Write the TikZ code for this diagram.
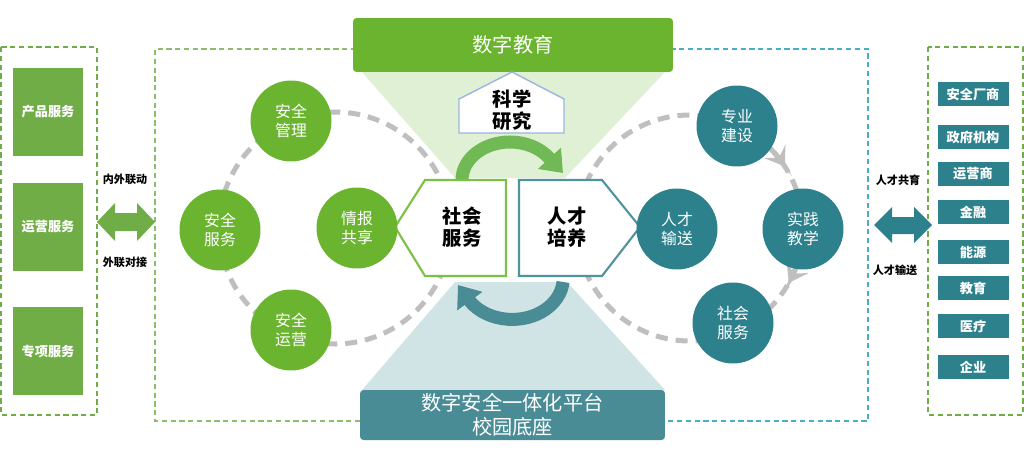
\documentclass[tikz,border=0pt]{standalone}
\usepackage{fontspec}
\setmainfont{Noto Sans CJK SC}
\usetikzlibrary{arrows.meta, positioning}
\definecolor{leafgreen}{RGB}{106,180,47}
\definecolor{sidegreen}{RGB}{112,173,71}
\definecolor{arcgreen}{RGB}{112,185,84}
\definecolor{edgegreen}{RGB}{125,193,66}
\definecolor{paleleaf}{RGB}{223,240,213}
\definecolor{tealdark}{RGB}{45,129,140}
\definecolor{tealmid}{RGB}{74,140,150}
\definecolor{edgeteal}{RGB}{79,147,156}
\definecolor{paleteal}{RGB}{208,227,229}
\definecolor{cyandash}{RGB}{75,172,198}
\definecolor{housebd}{RGB}{157,180,222}
\definecolor{dashgray}{RGB}{191,191,191}
\tikzset{
  ring/.style={
    circle, inner sep=0pt, minimum size=1.62cm, text=white,
    align=center, font=\fontsize{9}{10.5}\selectfont
  },
  grring/.style={ring, fill=leafgreen},
  tlring/.style={ring, fill=tealdark},
  svcbox/.style={rectangle, fill=sidegreen, minimum width=1.4cm,
    minimum height=1.78cm, inner sep=0pt, text=white,
    font=\bfseries\fontsize{7.5}{9}\selectfont},
  orgbox/.style={rectangle, fill=tealdark, minimum width=1.42cm,
    minimum height=0.48cm, inner sep=0pt, text=white,
    font=\bfseries\fontsize{7.5}{9}\selectfont},
  banner/.style={rectangle, rounded corners=2pt, inner sep=0pt,
    text=white, align=center, font=\fontsize{11.5}{13.5}\selectfont},
  tag/.style={font=\bfseries\fontsize{6.3}{8}\selectfont},
  core/.style={align=center, font=\bfseries\fontsize{11}{12.5}\selectfont},
  ringpath/.style={dashgray, line width=0.1cm, dash pattern=on 0.24cm off 0.16cm},
  cycarr/.style={line width=0.26cm, -{Triangle[length=0.4cm, width=0.6cm]}},
  chev/.style={dashgray, line width=0.1cm,
    -{Stealth[length=0.36cm, width=0.5cm, inset=0.15cm]}},
  frame/.style={dashed, line width=1pt, dash pattern=on 3pt off 2pt}
}

\begin{document}
\begin{tikzpicture}[x=0.02cm, y=-0.02cm]
  \useasboundingbox (0,0) rectangle (1024,463);

  % outer frames
  \draw[frame, sidegreen] (1,47) rectangle (97,415);
  \draw[frame, sidegreen] (928,47) rectangle (1023,415);
  \draw[frame, sidegreen!80!white, line width=0.8pt] (400,49) -- (155,49) -- (155,421) -- (400,421);
  \draw[frame, cyandash, line width=0.8pt] (600,49) -- (868,49) -- (868,421) -- (600,421);

  % light wedges
  \fill[paleleaf] (362,72) -- (665,72) -- (565,178) -- (455,178) -- cycle;
  \fill[paleteal] (455,282) -- (567,282) -- (665,390) -- (362,390) -- cycle;

  % dashed cycles
  \draw[ringpath] (335,228) circle[radius=116];
  \draw[ringpath] (690,228) circle[radius=113];
  \draw[chev] (690,228) ++(318:113) arc[start angle=318, end angle=327, radius=113];
  \draw[chev] (690,228) ++(20:113) arc[start angle=20, end angle=29, radius=113];

  % banners
  \node[banner, fill=leafgreen, minimum width=6.4cm, minimum height=1.08cm] (edubanner) at (513,45) {数字教育};
  \node[banner, fill=tealmid, minimum width=6.1cm, minimum height=1.0cm] (platbanner) at (512.5,415) {数字安全一体化平台\\校园底座};

  % research house
  \draw[housebd, fill=white, line width=0.8pt] (459,133) -- (459,99) -- (512,72) -- (564,99) -- (564,133) -- cycle;
  \node[core] (research) at (512,110) {科学\\研究};

  % cycle arrows
  \draw[cycarr, arcgreen] (462,180) arc[start angle=180, end angle=325, x radius=48, y radius=38] -- (563,173);
  \draw[cycarr, tealmid] (563,282) arc[start angle=5, end angle=145, x radius=51, y radius=41] -- (458,285);

  % core boxes
  \draw[edgegreen, fill=white, line width=1.2pt] (395,227) -- (425,180) -- (506,180) -- (506,276) -- (425,276) -- cycle;
  \draw[edgeteal, fill=white, line width=1.2pt] (519,180) -- (602,180) -- (640,227) -- (602,276) -- (519,276) -- cycle;
  \node[core] (socsvc) at (462,227) {社会\\服务};
  \node[core] (talent) at (567,227) {人才\\培养};

  % left ring
  \node[grring] (secmgmt) at (291,121) {安全\\管理};
  \node[grring] (secsvc)  at (220,230) {安全\\服务};
  \node[grring] (secops)  at (291,330) {安全\\运营};
  \node[grring] (intel)   at (357,228) {情报\\共享};

  % right ring
  \node[tlring] (major)    at (737,126) {专业\\建设};
  \node[tlring] (deliver)  at (677,229) {人才\\输送};
  \node[tlring] (practice) at (803,229) {实践\\教学};
  \node[tlring] (society)  at (733,323) {社会\\服务};

  % left column
  \node[svcbox] (product) at (48,112) {产品服务};
  \node[svcbox] (operate) at (48,227) {运营服务};
  \node[svcbox] (special) at (48,351) {专项服务};
  \fill[sidegreen] (97,222) -- (115,203) -- (115,213) -- (137,213) -- (137,203) -- (155,222)
    -- (137,241) -- (137,231) -- (115,231) -- (115,241) -- cycle;
  \node[tag] (linkin)  at (125,179) {内外联动};
  \node[tag] (linkout) at (125,262) {外联对接};

  % right column
  \node[orgbox] (vendor)     at (973,94)  {安全厂商};
  \node[orgbox] (gov)        at (973,137) {政府机构};
  \node[orgbox] (carrier)    at (973,174) {运营商};
  \node[orgbox] (finance)    at (973,212) {金融};
  \node[orgbox] (energy)     at (973,252) {能源};
  \node[orgbox] (edu)        at (973,288) {教育};
  \node[orgbox] (medical)    at (973,326) {医疗};
  \node[orgbox] (enterprise) at (973,367) {企业};
  \fill[tealdark] (874,225) -- (892,207) -- (892,217) -- (914,217) -- (914,207) -- (932,225)
    -- (914,243) -- (914,234) -- (892,234) -- (892,243) -- cycle;
  \node[tag] (cotrain)  at (898,180) {人才共育};
  \node[tag] (transfer) at (895,270) {人才输送};
\end{tikzpicture}
\end{document}
